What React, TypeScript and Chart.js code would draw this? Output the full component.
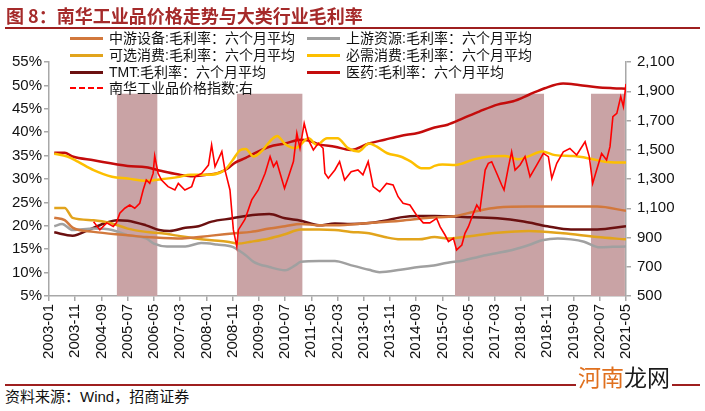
import React, { useEffect, useRef } from 'react';
import { Chart, registerables } from 'chart.js';

Chart.register(...registerables);

// ---------- data ----------
const xTickLabels = [
  '2003-01', '2003-11', '2004-09', '2005-07', '2006-05', '2007-03', '2008-01', '2008-11',
  '2009-09', '2010-07', '2011-05', '2012-03', '2013-01', '2013-11', '2014-09', '2015-07',
  '2016-05', '2017-03', '2018-01', '2018-11', '2019-09', '2020-07', '2021-05',
];

// months counted from 2003-01 (= 0)
const pharmaMonths = [2, 6, 9, 17, 30, 37, 43, 49, 54, 60, 64, 68, 71, 75, 77, 84, 90, 96, 99, 103, 109, 115, 122, 128, 134, 141, 147, 152, 158, 164, 171, 177, 183, 189, 196, 202, 209, 215, 220];
const pharmaValues = [35.6, 35.6, 34.8, 34.0, 32.8, 32.5, 31.7, 31.0, 30.6, 30.9, 31.2, 32.2, 33.5, 34.5, 35.1, 36.9, 37.6, 38.4, 38.2, 37.4, 36.9, 36.2, 37.6, 38.4, 39.2, 39.9, 41.0, 41.6, 43.0, 44.4, 45.9, 46.6, 48.0, 49.4, 50.4, 50.1, 49.6, 49.4, 49.3];

const staplesMonths = [2, 7, 11, 17, 24, 30, 37, 42, 49, 54, 60, 67, 70, 73, 75, 78, 81, 85, 87, 90, 94, 99, 102, 106, 110, 114, 118, 122, 125, 129, 134, 138, 142, 145, 147, 150, 155, 162, 168, 174, 179, 183, 188, 193, 200, 206, 212, 220];
const staplesValues = [35.4, 34.8, 33.7, 31.9, 30.5, 30.1, 29.6, 29.9, 30.4, 30.9, 30.9, 31.9, 34.0, 36.2, 36.4, 34.8, 35.9, 38.5, 39.2, 37.5, 36.6, 38.7, 37.3, 38.7, 38.7, 36.6, 35.9, 37.6, 36.9, 35.5, 34.8, 33.7, 32.3, 32.3, 32.8, 33.1, 33.0, 34.2, 34.8, 34.9, 34.2, 34.9, 35.9, 35.1, 34.9, 34.4, 33.7, 33.5];

const discMonths = [2, 6, 9, 17, 24, 30, 37, 43, 49, 56, 62, 68, 72, 77, 84, 90, 96, 103, 109, 115, 122, 128, 134, 141, 147, 152, 158, 171, 183, 196, 209, 220];
const discValues = [23.8, 23.8, 21.7, 21.2, 20.5, 19.4, 18.7, 18.4, 17.9, 17.3, 16.9, 16.6, 16.2, 16.6, 17.3, 18.2, 19.2, 19.2, 19.1, 18.7, 18.4, 17.6, 17.1, 17.1, 17.6, 17.3, 17.6, 18.5, 18.9, 18.4, 17.6, 17.1];

const midMonths = [2, 6, 9, 17, 30, 37, 49, 62, 71, 77, 84, 90, 96, 103, 109, 122, 134, 145, 155, 162, 171, 183, 196, 209, 220];
const midValues = [21.7, 21.2, 19.6, 18.7, 18.0, 17.6, 17.3, 17.9, 18.4, 18.7, 19.4, 19.9, 20.4, 20.1, 20.1, 20.6, 21.1, 21.7, 22.1, 23.0, 23.9, 24.1, 24.1, 24.1, 23.2];

const upMonths = [2, 5, 9, 17, 24, 30, 37, 40, 45, 52, 58, 64, 70, 75, 78, 84, 90, 94, 96, 103, 109, 115, 122, 126, 134, 141, 145, 152, 158, 164, 171, 177, 183, 188, 194, 199, 204, 210, 215, 220];
const upValues = [19.9, 20.4, 19.1, 19.4, 19.1, 18.0, 17.3, 16.2, 15.6, 15.6, 16.3, 16.0, 15.5, 13.7, 12.3, 11.2, 10.5, 11.6, 12.3, 12.5, 12.5, 11.6, 10.6, 10.1, 10.6, 11.2, 11.4, 12.1, 12.6, 13.4, 14.2, 14.9, 15.9, 16.9, 17.3, 17.1, 16.6, 15.4, 15.5, 15.6];

const tmtMonths = [2, 9, 15, 21, 26, 30, 37, 42, 46, 52, 57, 62, 70, 75, 84, 90, 96, 103, 109, 115, 122, 128, 134, 141, 147, 158, 171, 181, 190, 199, 209, 220];
const tmtValues = [18.6, 17.9, 19.1, 20.5, 21.2, 21.1, 20.1, 19.1, 18.9, 19.6, 19.9, 20.9, 21.6, 22.1, 22.5, 21.6, 21.1, 20.1, 20.5, 20.4, 20.6, 21.1, 21.8, 22.1, 22.1, 21.9, 21.6, 20.9, 19.9, 19.2, 19.2, 19.9];

const nanhuaMonths = [
  17, 19.4, 22, 24.5, 25.7, 27, 28.9, 30.8, 32.7, 34.6,
  35.9, 37.1, 38.4, 39.7, 40.3, 41.6, 42.9, 45.4, 48, 49.3,
  51.8, 54.4, 55.7, 58.2, 60.8, 62, 63.3, 65.9, 67.1, 69,
  70.3, 71.6, 72.2, 74.7, 77.3, 79.8, 82.4, 84.3, 85.6, 86.8,
  88.1, 89.8, 91.3, 93.2, 94.5, 95.7, 97.3, 98.9, 100.8, 102.7,
  104.5, 105.2, 106.5, 109, 110.8, 112.7, 115.2, 117.8, 119.7, 121.7,
  123.6, 126.1, 128.7, 131.2, 133.1, 135, 137.6, 140.1, 142.7, 145.2,
  147.8, 149.1, 151, 152.3, 154.2, 155.4, 157.4, 158.6, 159.9, 161.8,
  163.1, 164.3, 166.3, 167.5, 168.8, 170.7, 172.6, 173.5, 175.2, 176.4,
  177.7, 179.6, 181.5, 183.4, 186, 188.5, 190.4, 191.7, 193.6, 196.1,
  198.6, 201.2, 204.4, 206, 207.3, 208.8, 210.7, 212.6, 213.9, 215,
  216.5, 218, 219, 220,
];
const nanhuaValues = [
  1008, 952, 1000, 975, 1000, 1066, 1100, 1122, 1100, 1134,
  1225, 1293, 1270, 1338, 1458, 1338, 1293, 1248, 1225, 1270,
  1225, 1248, 1316, 1338, 1395, 1533, 1384, 1488, 1361, 1225,
  952, 838, 952, 1023, 1157, 1225, 1339, 1453, 1385, 1419,
  1339, 1236, 1316, 1419, 1613, 1510, 1681, 1567, 1499, 1544,
  1510, 1339, 1305, 1362, 1419, 1293, 1350, 1362, 1328, 1419,
  1248, 1213, 1270, 1259, 1179, 1134, 1122, 1054, 1000, 1000,
  1031, 974, 917, 872, 894, 815, 849, 929, 974, 1065,
  1122, 1088, 1361, 1407, 1418, 1339, 1259, 1225, 1384, 1486,
  1361, 1396, 1453, 1316, 1396, 1475, 1453, 1305, 1407, 1486,
  1509, 1464, 1555, 1453, 1270, 1361, 1475, 1430, 1521, 1726,
  1749, 1863, 1795, 1950,
];

// shaded periods (months from 2003-01) and their height on the left axis
const bandStarts = [25.8, 71.6, 154.8, 206.6];
const bandEnds = [41.4, 96.7, 188.8, 219.6];
const bandTop = 48.2;

const seriesLabels = [
  '中游设备:毛利率：六个月平均',
  '上游资源:毛利率：六个月平均',
  '可选消费:毛利率：六个月平均',
  '必需消费:毛利率：六个月平均',
  'TMT:毛利率：六个月平均',
  '医药:毛利率：六个月平均',
  '南华工业品价格指数:右',
];
const seriesColors = ['#d2783c', '#a0a0a0', '#e2a41c', '#fdbf00', '#6b1010', '#c40c0c', '#ff0000'];

// ---------- component ----------
const LATIN = "'Liberation Sans', Arial, sans-serif";
const CJK = "'Liberation Sans', 'Noto Sans CJK SC', sans-serif";
const AXIS = '#a8a8a8';

const pts = (ms: number[], vs: number[]) => ms.map((m, i) => ({ x: m, y: vs[i] }));

export default function App() {
  const ref = useRef<HTMLCanvasElement>(null);

  useEffect(() => {
    const series = [
      { ms: midMonths, vs: midValues },
      { ms: upMonths, vs: upValues },
      { ms: discMonths, vs: discValues },
      { ms: staplesMonths, vs: staplesValues },
      { ms: tmtMonths, vs: tmtValues },
      { ms: pharmaMonths, vs: pharmaValues },
    ];
    const datasets: any[] = series.map((s, i) => ({
      type: 'line',
      label: seriesLabels[i],
      data: pts(s.ms, s.vs),
      borderColor: seriesColors[i],
      borderWidth: 2.5,
      pointRadius: 0,
      cubicInterpolationMode: 'monotone',
      yAxisID: 'y',
      order: 2,
    }));
    datasets.push({
      type: 'line',
      label: seriesLabels[6],
      data: pts(nanhuaMonths, nanhuaValues),
      borderColor: seriesColors[6],
      borderWidth: 1.6,
      pointRadius: 0,
      tension: 0,
      yAxisID: 'y1',
      order: 1,
    });
    bandStarts.forEach((s, i) => {
      datasets.push({
        type: 'line',
        label: 'band' + i,
        data: [{ x: s, y: bandTop }, { x: bandEnds[i], y: bandTop }],
        borderWidth: 0,
        borderColor: 'rgba(0,0,0,0)',
        backgroundColor: '#c9a3a5',
        fill: 'start',
        pointRadius: 0,
        yAxisID: 'y',
        order: 10,
      });
    });

    const tickFont = { family: LATIN, size: 15 };
    const chart = new Chart(ref.current!, {
      type: 'line',
      data: { datasets },
      options: {
        animation: false,
        responsive: false,
        layout: { padding: { top: 62, left: 0, right: 0, bottom: 0 } },
        plugins: { legend: { display: false }, tooltip: { enabled: false } },
        scales: {
          x: {
            type: 'linear',
            min: 0,
            max: 220,
            afterFit: (s: any) => { s.height = 74; },
            ticks: {
              stepSize: 10,
              autoSkip: false,
              maxRotation: 90,
              minRotation: 90,
              padding: 3,
              color: '#111',
              font: tickFont,
              callback: (v: any) => xTickLabels[Math.round(Number(v) / 10)] ?? '',
            },
            grid: { drawOnChartArea: false, drawTicks: true, tickLength: 5, color: AXIS, lineWidth: 1.5 },
            border: { display: true, color: AXIS, width: 1.5 },
          },
          y: {
            type: 'linear',
            position: 'left',
            min: 5,
            max: 55,
            afterFit: (s: any) => { s.width = 49; },
            ticks: { stepSize: 5, padding: 2, color: '#111', font: tickFont, callback: (v: any) => v + '%' },
            grid: { drawOnChartArea: false, drawTicks: true, tickLength: 5, color: AXIS, lineWidth: 1.5 },
            border: { display: true, color: AXIS, width: 1.5 },
          },
          y1: {
            type: 'linear',
            position: 'right',
            min: 500,
            max: 2100,
            afterFit: (s: any) => { s.width = 79; },
            ticks: {
              stepSize: 200,
              padding: 6,
              color: '#111',
              font: tickFont,
              callback: (v: any) => Number(v).toLocaleString('en-US'),
            },
            grid: { drawOnChartArea: false, drawTicks: true, tickLength: 5, color: AXIS, lineWidth: 1.5 },
            border: { display: true, color: AXIS, width: 1.5 },
          },
        },
      } as any,
    });
    return () => chart.destroy();
  }, []);

  const rowTops = [38, 55, 72, 88];

  return (
    <div style={{ position: 'absolute', left: 0, top: 0, width: 705, height: 411, background: '#fff', overflow: 'hidden' }}>
      <canvas ref={ref} width={705} height={370} style={{ position: 'absolute', left: 0, top: 0, display: 'block' }} />
      {/* title */}
      <div style={{ position: 'absolute', left: 6, top: 5, fontFamily: "'Noto Sans CJK SC', sans-serif", fontWeight: 700, fontSize: 18, lineHeight: '20px', color: '#a52a2a', whiteSpace: 'nowrap' }}>
        图 8：南华工业品价格走势与大类行业毛利率
      </div>
      <div style={{ position: 'absolute', left: 5, top: 27, width: 695, height: 2, background: '#9e1f1f' }} />
      {/* legend */}
      {seriesLabels.map((lab, i) => {
        const col = i % 2;
        const row = Math.floor(i / 2);
        const left = col === 0 ? 70 : 307;
        const cy = rowTops[row];
        const dashed = i === 6;
        return (
          <React.Fragment key={lab}>
            <div
              style={{
                position: 'absolute',
                left,
                top: cy - 1.5,
                width: 33,
                height: 0,
                borderTop: dashed ? `2.5px dashed ${seriesColors[i]}` : `3px solid ${seriesColors[i]}`,
              }}
            />
            <div
              style={{
                position: 'absolute',
                left: left + 39,
                top: cy - 10,
                fontFamily: CJK,
                fontSize: 14,
                lineHeight: '20px',
                color: '#111',
                whiteSpace: 'nowrap',
              }}
            >
              {lab}
            </div>
          </React.Fragment>
        );
      })}
      {/* footer */}
      <div style={{ position: 'absolute', left: 5, top: 384, width: 695, height: 2, background: '#9e1f1f' }} />
      <div style={{ position: 'absolute', left: 5, top: 388, fontFamily: CJK, fontSize: 15, lineHeight: '18px', color: '#111', whiteSpace: 'nowrap' }}>
        资料来源：Wind，招商证券
      </div>
      <div style={{ position: 'absolute', left: 576, top: 363, padding: '0 2px', background: '#fff', fontFamily: "'Noto Sans CJK SC', sans-serif", fontSize: 23, lineHeight: '26px', whiteSpace: 'nowrap' }}>
        <span style={{ color: '#e0701e' }}>河南</span>
        <span style={{ color: '#1a1a1a' }}>龙网</span>
      </div>
    </div>
  );
}
